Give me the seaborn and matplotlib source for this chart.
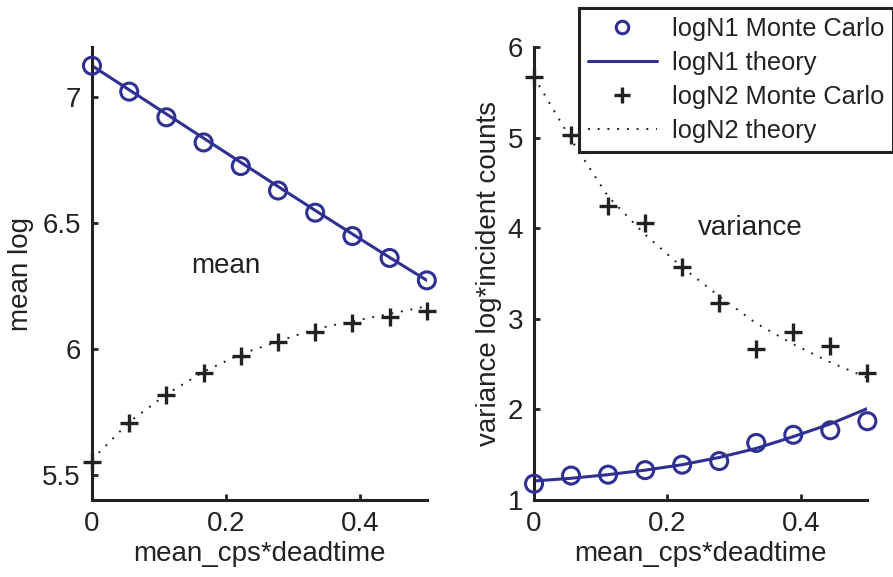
import numpy as np
import matplotlib
matplotlib.use("Agg")
import matplotlib.pyplot as plt
from matplotlib.lines import Line2D
import seaborn as sns

# mean_cps*deadtime grid (10 points, 0 .. 0.5)
x = [0.0, 0.0556, 0.1111, 0.1667, 0.2222, 0.2778, 0.3333, 0.3889, 0.4444, 0.5]

# left panel: mean log
mean_n1_mc = [7.126, 7.023, 6.921, 6.821, 6.727, 6.630, 6.542, 6.449, 6.362, 6.273]
mean_n1_th = [7.126, 7.030, 6.934, 6.838, 6.742, 6.646, 6.551, 6.457, 6.364, 6.273]
mean_n2_mc = [5.553, 5.705, 5.817, 5.906, 5.972, 6.027, 6.069, 6.102, 6.128, 6.152]
mean_n2_th = [5.56, 5.71, 5.82, 5.91, 5.98, 6.03, 6.08, 6.11, 6.14, 6.17]

# right panel: variance
var_n1_mc = [1.18, 1.27, 1.28, 1.33, 1.39, 1.43, 1.63, 1.72, 1.77, 1.87]
var_n1_th = [1.21, 1.24, 1.28, 1.33, 1.39, 1.47, 1.57, 1.70, 1.84, 2.01]
var_n2_mc = [5.67, 5.03, 4.25, 4.06, 3.57, 3.18, 2.67, 2.85, 2.70, 2.40]
var_n2_th = [5.67, 4.98, 4.35, 3.93, 3.57, 3.25, 2.95, 2.72, 2.52, 2.35]

labels = ["logN1 Monte Carlo", "logN1 theory", "logN2 Monte Carlo", "logN2 theory"]

BLUE = "#2e3192"
DARK = "#222222"
FS = 20
DOTS = (0, (1, 4))

sns.set_style("ticks")
plt.rcParams["font.family"] = ["Liberation Sans", "DejaVu Sans"]
plt.rcParams["font.size"] = FS
plt.rcParams["text.color"] = DARK
plt.rcParams["axes.labelcolor"] = DARK
plt.rcParams["xtick.color"] = DARK
plt.rcParams["ytick.color"] = DARK

fig = plt.figure(figsize=(8.93, 5.77), dpi=100)
ax1 = fig.add_axes([0.103, 0.1334, 0.375, 0.785])
ax2 = fig.add_axes([0.598, 0.1334, 0.3733, 0.785])


def draw(ax, n1_mc, n1_th, n2_mc, n2_th):
    sns.scatterplot(x=x, y=n1_mc, ax=ax, marker="o", s=150, facecolor="none",
                    edgecolor=BLUE, linewidth=2.2, zorder=3, clip_on=False)
    sns.lineplot(x=x, y=n1_th, ax=ax, color=BLUE, lw=2.2, zorder=2)
    sns.scatterplot(x=x, y=n2_mc, ax=ax, marker="+", s=150, color=DARK,
                    linewidth=2.4, zorder=3, clip_on=False)
    sns.lineplot(x=x, y=n2_th, ax=ax, color=DARK, lw=1.4, zorder=2)
    ax.lines[-1].set_linestyle(DOTS)
    for s in ["top", "right"]:
        ax.spines[s].set_visible(False)
    for s in ["left", "bottom"]:
        ax.spines[s].set_linewidth(2.2)
        ax.spines[s].set_color(DARK)
    ax.tick_params(direction="in", length=4, width=2, labelsize=FS, pad=8)
    ax.set_xlim(0, 0.5)
    ax.set_xticks([0, 0.2, 0.4])
    ax.set_xticklabels(["0", "0.2", "0.4"])
    ax.set_xlabel("mean_cps*deadtime", fontsize=FS, labelpad=3)


draw(ax1, mean_n1_mc, mean_n1_th, mean_n2_mc, mean_n2_th)
ax1.set_ylim(5.4, 7.2)
ax1.set_yticks([5.5, 6, 6.5, 7])
ax1.set_yticklabels(["5.5", "6", "6.5", "7"])
ax1.set_ylabel("mean log", fontsize=FS, labelpad=6)
ax1.text(0.2, 6.33, "mean", fontsize=FS, ha="center", va="center")

draw(ax2, var_n1_mc, var_n1_th, var_n2_mc, var_n2_th)
ax2.set_ylim(1, 6)
ax2.set_yticks([1, 2, 3, 4, 5, 6])
ax2.set_ylabel("variance log*incident counts", fontsize=FS, labelpad=4)
ax2.text(0.325, 4.0, "variance", fontsize=FS, ha="center", va="center")

handles = [
    Line2D([], [], ls="none", marker="o", ms=9, mfc="none", mec=BLUE, mew=2.2),
    Line2D([], [], color=BLUE, lw=2.2),
    Line2D([], [], ls="none", marker="+", ms=12, color=DARK, mew=2.4),
    Line2D([], [], color=DARK, lw=1.4, ls=DOTS),
]
leg = fig.legend(handles, labels, loc="upper left",
                 bbox_to_anchor=(579 / 893, 1 - 8 / 577), frameon=True,
                 fancybox=False, edgecolor=DARK, framealpha=1,
                 fontsize=18.3, handlelength=2.7, borderpad=0.35,
                 borderaxespad=0, labelspacing=0.4, handletextpad=0.6)
leg.get_frame().set_linewidth(2.2)

fig.savefig("out.png", dpi=100)
